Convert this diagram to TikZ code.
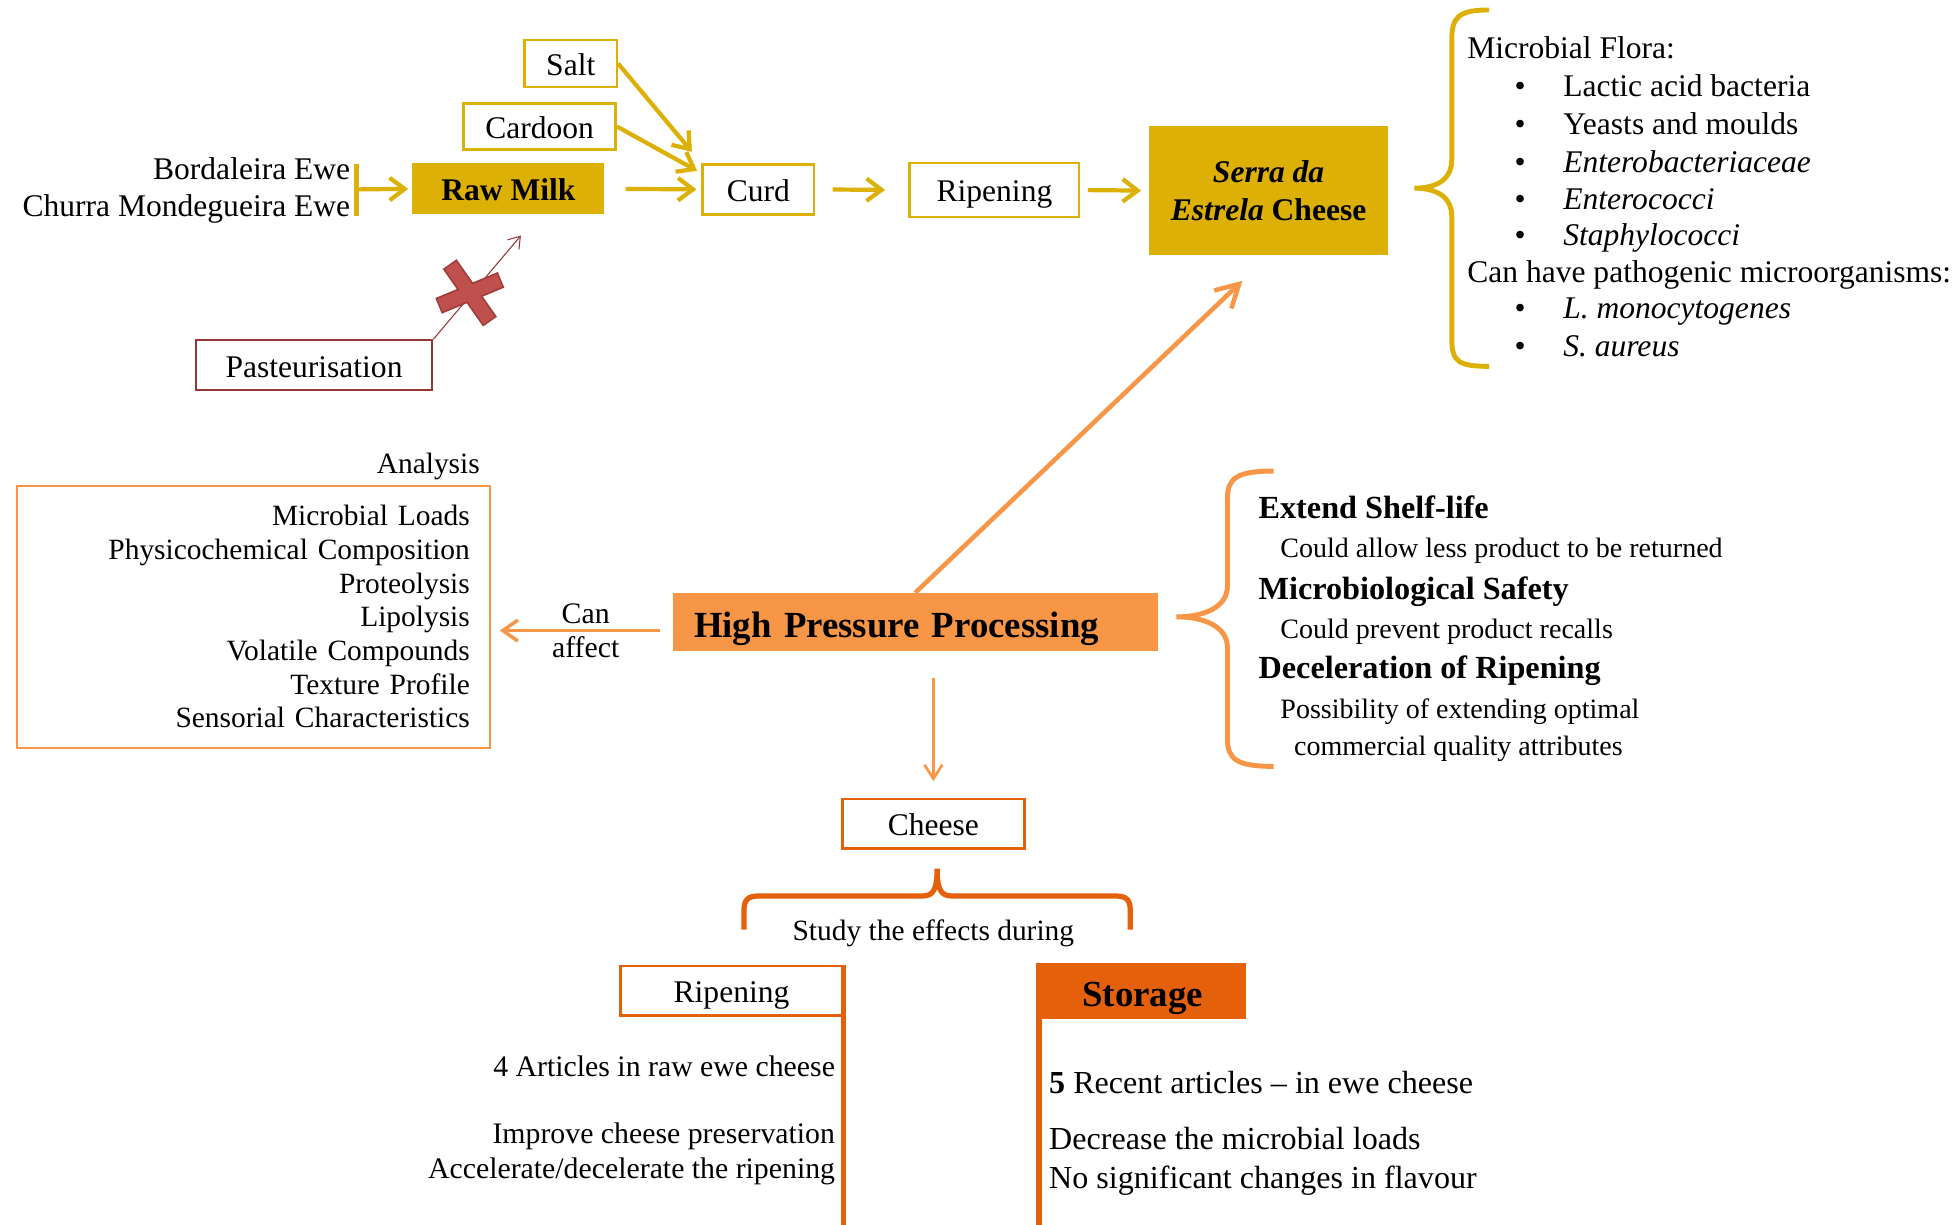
\documentclass[tikz,border=0pt]{standalone}
\usepackage{fontspec}
\setmainfont{Liberation Serif}
\usetikzlibrary{arrows.meta}

\definecolor{milkgold}{HTML}{DDB005}
\definecolor{hppor}{HTML}{F79646}
\definecolor{deepor}{HTML}{E5600B}
\definecolor{xred}{HTML}{C0504D}
\definecolor{xreddark}{HTML}{9E3C3A}
\definecolor{pastred}{HTML}{953735}

% bullet item of the flora list
\newcommand{\flitem}[1]{\makebox[0.975cm][l]{\textbullet}#1}

\begin{document}
\begin{tikzpicture}[x=0.025cm, y=-0.025cm,
	every node/.style={font=\fontsize{18}{21.3}\selectfont},
	smalltxt/.style={font=\fontsize{16.8}{19.2}\selectfont},
	desctxt/.style={font=\fontsize{16}{19}\selectfont},
	boldtxt/.style={font=\fontsize{18.4}{21.5}\selectfont\bfseries},
	bigbold/.style={font=\fontsize{21}{24}\selectfont\bfseries, text height=22pt, text depth=4.2pt},
	lowtext/.style={text height=14.5pt, text depth=0.9pt},
	ybox/.style={draw=milkgold, line width=1.4pt, inner sep=0pt, lowtext},
	yfill/.style={fill=milkgold, inner sep=0pt},
	yline/.style={draw=milkgold, line width=2.4pt},
	yarrow/.style={yline, -{Straight Barb[length=0.3cm, width=0.45cm]}},
	rbox/.style={draw=pastred, line width=1.1pt, inner sep=0pt, lowtext},
	redarrow/.style={draw=pastred, line width=0.6pt, -{Straight Barb[length=0.22cm, width=0.3cm]}},
	obox/.style={draw=hppor, line width=1.2pt},
	ofill/.style={fill=hppor},
	oline/.style={draw=hppor, line width=2.6pt},
	dbox/.style={draw=deepor, line width=1.4pt, inner sep=0pt, lowtext},
	dfill/.style={fill=deepor, inner sep=0pt},
	dline/.style={draw=deepor, line width=3pt}]

	\useasboundingbox[fill=white] (0,0) rectangle (1568,983);

	% production chain
	\node (salt) [ybox, minimum width=1.85cm, minimum height=0.95cm] at (458,51) {Salt};
	\node (cardoon) [ybox, minimum width=3.05cm, minimum height=0.93cm] at (433,101.5) {Cardoon};
	\node (rawmilk) [yfill, lowtext, minimum width=3.85cm, minimum height=1.03cm] at (408,151.5) {\textbf{Raw Milk}};
	\node (curd) [ybox, minimum width=2.23cm, minimum height=1cm] at (608.5,152) {Curd};
	\node (ripen) [ybox, minimum width=3.4cm, minimum height=1.08cm] at (798,152.5) {Ripening};
	\node (serra) [yfill, minimum width=4.8cm, minimum height=2.6cm, align=center] at (1018,153)
		{\textbf{\textit{Serra da}}\\\textbf{\textit{Estrela} Cheese}};

	% ewe breeds
	\node (ewes) [anchor=east, align=right] at (286,153) {Bordaleira Ewe\\Churra Mondegueira Ewe};
	\coordinate (ewebar) at (286,152);
	\draw[yline] (286,132) -- (286,173);

	% Arrows
	\draw[yarrow, shorten >=0.08cm] (ewebar) -- (rawmilk.west);
	\draw[yarrow, shorten <=0.42cm, shorten >=0.1cm] (rawmilk.east) -- (curd.west);
	\draw[yarrow, shorten <=0.35cm, shorten >=0.47cm] (curd.east) -- (ripen.west);
	\draw[yarrow, shorten <=0.15cm, shorten >=0.15cm] (ripen.east) -- (serra.west);
	\draw[yarrow, shorten >=0.3cm] (salt.east) -- (curd.north west);
	\draw[yarrow, shorten >=0.1cm] (cardoon.east) -- ([yshift=-0.2cm]curd.north west);

	% pasteurisation is left out
	\node (past) [rbox, minimum width=4.75cm, minimum height=1cm] at (252,293) {Pasteurisation};
	\coordinate (pastend) at (418,189);
	\draw[redarrow] (past.north east) -- (pastend);
	% red cross
	\draw[xreddark, line width=0.34cm, shorten <=-0.03cm, shorten >=-0.03cm] (361.5,212.9) -- (392.5,257.1);
	\draw[xreddark, line width=0.34cm, shorten <=-0.03cm, shorten >=-0.03cm] (353,245) -- (401,225);
	\draw[xred, line width=0.27cm] (361.5,212.9) -- (392.5,257.1);
	\draw[xred, line width=0.27cm] (353,245) -- (401,225);

	% microbial flora
	\draw[yline, line width=2.8pt] (1195,8) .. controls (1170,8) and (1165,14) .. (1165,32) -- (1165,128)
		.. controls (1165,146) and (1150,151) .. (1135,151)
		.. controls (1150,151) and (1165,156) .. (1165,174) -- (1165,272)
		.. controls (1165,290) and (1170,294) .. (1195,294);
	\node (flora) [anchor=west] at (1172.5,38) {Microbial Flora:};
	\node (lab) [anchor=west] at (1210.5,69) {\flitem{Lactic acid bacteria}};
	\node (yeasts) [anchor=west] at (1210.5,99) {\flitem{Yeasts and moulds}};
	\node (entbac) [anchor=west] at (1210.5,130) {\flitem{\textit{Enterobacteriaceae}}};
	\node (entcoc) [anchor=west] at (1210.5,160) {\flitem{\textit{Enterococci}}};
	\node (staph) [anchor=west] at (1210.5,191) {\flitem{\textit{Staphylococci}}};
	\node (pathogen) [anchor=west] at (1172.5,221) {Can have pathogenic microorganisms:};
	\node (lmono) [anchor=west] at (1210.5,250) {\flitem{\textit{L. monocytogenes}}};
	\node (saureus) [anchor=west] at (1210.5,278) {\flitem{\textit{S. aureus}}};

	% high pressure processing
	\node (hpp) [ofill, text width=8.875cm, inner xsep=0.425cm, minimum height=1.1cm, align=left, bigbold] at (734.5,499)
		{High Pressure Processing};
	\draw[oline, -{Straight Barb[length=0.45cm, width=0.5cm]}] (hpp.north) -- ([shift={(-21,20)}]serra.south);

	% analysis
	\node (analysislbl) [anchor=east, smalltxt] at (390,374) {Analysis};
	\node (analysis) [obox, align=right, text width=8.675cm, inner xsep=0.4cm, minimum height=5.25cm, smalltxt] at (203.5,495)
		{Microbial Loads\\Physicochemical Composition\\Proteolysis\\Lipolysis\\Volatile Compounds\\Texture Profile\\Sensorial Characteristics};
	\node (canaffect) [align=center, font=\fontsize{17}{19.2}\selectfont] at (470,506) {Can\\affect};
	\draw[oline, line width=2pt, -{Straight Barb[length=0.3cm, width=0.42cm]}, shorten <=0.25cm, shorten >=0.18cm]
		(hpp.west |- canaffect) -- (analysis.east |- canaffect);

	% benefits
	\draw[oline, line width=2.8pt] (1022,378) .. controls (992,378) and (985,384) .. (985,400) -- (985,470)
		.. controls (985,488) and (965,495) .. (944,495)
		.. controls (965,495) and (985,502) .. (985,520) -- (985,593)
		.. controls (985,609) and (992,615) .. (1022,615);
	\node (shelf) [anchor=west, boldtxt] at (1005,407) {Extend Shelf-life};
	\node (shelfd) [anchor=west, desctxt] at (1022.5,442) {Could allow less product to be returned};
	\node (safety) [anchor=west, boldtxt] at (1005,475) {Microbiological Safety};
	\node (safetyd) [anchor=west, desctxt] at (1022.5,507) {Could prevent product recalls};
	\node (decel) [anchor=west, boldtxt] at (1005,538) {Deceleration of Ripening};
	\node (deceld) [anchor=west, desctxt] at (1022.5,571) {Possibility of extending optimal};
	\node (deceld2) [anchor=west, desctxt] at (1033.5,601) {commercial quality attributes};

	% cheese studies
	\node (cheese) [dbox, minimum width=3.65cm, minimum height=1cm] at (749,661) {Cheese};
	\draw[oline, line width=1.5pt, -{Straight Barb[length=0.28cm, width=0.36cm]}, shorten <=0.55cm, shorten >=0.33cm]
		(cheese.north |- hpp.south) -- (cheese.north);
	\draw[dline] (597,746) -- (597,731) .. controls (597,722) and (600,719) .. (609,719) -- (740,719)
		.. controls (749,719) and (752,714) .. (752,697)
		.. controls (752,714) and (755,719) .. (764,719) -- (895,719)
		.. controls (904,719) and (907,722) .. (907,731) -- (907,746);
	\node (study) [smalltxt] at (749,749) {Study the effects during};

	\node (ripen2) [dbox, minimum width=4.45cm, minimum height=1cm] at (587,795) {Ripening};
	\node (storage) [dfill, minimum width=4.15cm, minimum height=1.125cm, bigbold] at (917,795.5) {Storage};
	\draw[dline] (ripen2.north east) -- +(0,210);
	\draw[dline] (storage.north west) -- +(0,212);

	% findings
	\node (art4) [anchor=east, font=\fontsize{17}{19.9}\selectfont] at (675,856) {4 Articles in raw ewe cheese};
	\node (improve) [anchor=east, align=right, font=\fontsize{17}{19.9}\selectfont] at (675,926)
		{Improve cheese preservation\\Accelerate/decelerate the ripening};
	\node (art5) [anchor=west, font=\fontsize{18.3}{22}\selectfont] at (837,869) {\textbf{5} Recent articles – in ewe cheese};
	\node (decrease) [anchor=west, align=left, font=\fontsize{18.3}{22}\selectfont] at (837,932)
		{Decrease the microbial loads\\No significant changes in flavour};
\end{tikzpicture}
\end{document}
